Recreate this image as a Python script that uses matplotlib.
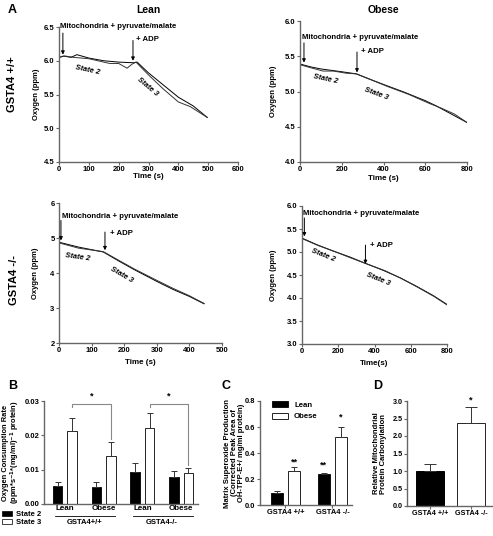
import numpy as np
import matplotlib
matplotlib.use("Agg")
import matplotlib.pyplot as plt
from matplotlib.transforms import blended_transform_factory

plt.rcParams['font.family'] = ['Liberation Sans', 'DejaVu Sans']
plt.rcParams['font.weight'] = 'bold'
plt.rcParams['axes.labelweight'] = 'bold'
plt.rcParams['mathtext.default'] = 'bf'

W, H = 493, 536
AXC = '#666666'

# ---------------- panel A traces (time s, oxygen ppm) ----------------
lean_wt_t1 = [0, 15, 40, 60, 100, 150, 200, 250, 262, 300, 350, 400, 450, 497]
lean_wt_o1 = [6.05, 6.07, 6.05, 6.09, 6.04, 6.00, 5.98, 5.97, 5.98, 5.82, 5.64, 5.46, 5.33, 5.16]
lean_wt_t2 = [0, 20, 50, 100, 170, 200, 228, 245, 258, 300, 350, 400, 440, 497]
lean_wt_o2 = [6.05, 6.07, 6.05, 6.03, 5.96, 5.96, 5.89, 5.95, 5.98, 5.79, 5.58, 5.39, 5.32, 5.16]

obese_wt_t1 = [0, 50, 100, 150, 200, 270, 320, 400, 500, 600, 650, 700, 800]
obese_wt_o1 = [5.39, 5.35, 5.32, 5.30, 5.28, 5.25, 5.19, 5.10, 4.99, 4.87, 4.80, 4.72, 4.56]
obese_wt_t2 = [0, 60, 110, 160, 220, 270, 330, 420, 520, 620, 680, 740, 800]
obese_wt_o2 = [5.38, 5.33, 5.29, 5.29, 5.26, 5.25, 5.18, 5.07, 4.96, 4.83, 4.76, 4.68, 4.56]

lean_ko_t1 = [0, 60, 136, 180, 230, 300, 350, 400, 445]
lean_ko_o1 = [4.88, 4.74, 4.60, 4.36, 4.10, 3.76, 3.53, 3.33, 3.12]
lean_ko_t2 = [0, 60, 136, 180, 230, 300, 350, 400, 445]
lean_ko_o2 = [4.86, 4.71, 4.61, 4.38, 4.12, 3.79, 3.56, 3.35, 3.13]

obese_ko_t1 = [0, 7, 81, 173, 265, 339, 449, 541, 634, 725, 800]
obese_ko_o1 = [5.28, 5.29, 5.16, 5.02, 4.89, 4.77, 4.60, 4.44, 4.25, 4.05, 3.86]
obese_ko_t2 = [0, 7, 90, 180, 270, 345, 460, 550, 640, 730, 800]
obese_ko_o2 = [5.27, 5.28, 5.14, 5.01, 4.87, 4.76, 4.59, 4.42, 4.23, 4.03, 3.85]

# ---------------- panel B: oxygen consumption rate ----------------
b_groups = ['Lean', 'Obese', 'Lean', 'Obese']
b_genotypes = ['GSTA4+/+', 'GSTA4-/-']
state2_mean = [0.0053, 0.0050, 0.0094, 0.0078]
state2_err = [0.0012, 0.0015, 0.0026, 0.0019]
state3_mean = [0.0213, 0.0139, 0.0220, 0.0091]
state3_err = [0.0038, 0.0042, 0.0044, 0.0013]

# ---------------- panel C: superoxide ----------------
c_labels = ['GSTA4 +/+', 'GSTA4 -/-']
c_lean = [0.09, 0.236]
c_lean_err = [0.018, 0.014]
c_obese = [0.262, 0.525]
c_obese_err = [0.033, 0.075]

# ---------------- panel D: carbonylation ----------------
d_labels = ['GSTA4 +/+', 'GSTA4 -/-']
d_vals = [1.01, 2.38]
d_err = [0.18, 0.44]

fig = plt.figure(figsize=(W / 100, H / 100), dpi=100)


def ax_px(l, t, r, b):
    return fig.add_axes([l / W, 1 - b / H, (r - l) / W, (b - t) / H])


def style(ax, fs=5.5):
    for s in ['top', 'right']:
        ax.spines[s].set_visible(False)
    for s in ['left', 'bottom']:
        ax.spines[s].set_color(AXC)
        ax.spines[s].set_linewidth(1.0)
    ax.tick_params(direction='out', length=2.2, width=0.8, color=AXC,
                   labelsize=fs, pad=1.0)
    for lab in ax.get_xticklabels() + ax.get_yticklabels():
        lab.set_fontweight('bold')


def arrow(ax, x, y0, y1):
    ax.annotate('', xy=(x, y1), xytext=(x, y0),
                arrowprops=dict(arrowstyle='-|>', color='black', lw=0.7,
                                mutation_scale=5, shrinkA=0, shrinkB=0))


def trace_panel(box, ts, os_, xlim, ylim, xt, yt, yfmt, xlabel, xl_off, yl_off,
                mito, adp, s2, s3):
    ax = ax_px(*box)
    ax.plot(ts[0], os_[0], color='black', lw=0.7)
    ax.plot(ts[1], os_[1], color='#333333', lw=0.7)
    ax.set_xlim(*xlim)
    ax.set_ylim(*ylim)
    ax.set_xticks(xt)
    ax.set_yticks(yt)
    ax.set_yticklabels([yfmt % v for v in yt])
    style(ax)
    ax.set_xlabel(xlabel, fontsize=5.8)
    ax.set_ylabel('Oxygen (ppm)', fontsize=5.5)
    ax.xaxis.set_label_coords(0.5, xl_off)
    ax.yaxis.set_label_coords(yl_off, 0.5)
    # annotations
    ax.text(mito[0], mito[1], 'Mitochondria + pyruvate/malate', fontsize=5.6,
            va='center', ha='left', clip_on=False)
    arrow(ax, mito[2], mito[3], mito[4])
    arrow(ax, adp[0], adp[1], adp[2])
    ax.text(adp[3], adp[4], '+ ADP', fontsize=5.6, va='center', ha='left')
    ax.text(s2[0], s2[1], 'State 2', fontsize=5.5, style='italic',
            rotation=s2[2], ha='center', va='center')
    ax.text(s3[0], s3[1], 'State 3', fontsize=5.5, style='italic',
            rotation=s3[2], ha='center', va='center')
    return ax


# A - lean +/+
trace_panel((59, 27, 238, 162), (lean_wt_t1, lean_wt_t2), (lean_wt_o1, lean_wt_o2),
            (0, 600), (4.5, 6.5), np.arange(0, 601, 100), np.arange(4.5, 6.51, 0.5),
            '%.1f', 'Time (s)', -0.08, -0.106,
            (5, 6.5, 13, 6.41, 6.09), (248, 6.3, 6.0, 258, 6.32),
            (97, 5.86, -12), (298, 5.61, -40))
# A - obese +/+
trace_panel((300, 21, 467, 162), (obese_wt_t1, obese_wt_t2), (obese_wt_o1, obese_wt_o2),
            (0, 800), (4.0, 6.0), np.arange(0, 801, 200), np.arange(4.0, 6.01, 0.5),
            '%.1f', 'Time (s)', -0.095, -0.138,
            (11, 5.76, 19, 5.69, 5.41), (273, 5.56, 5.27, 292, 5.57),
            (120, 5.18, -12), (364, 4.96, -20))
# A - lean -/-
trace_panel((59, 203, 222, 343), (lean_ko_t1, lean_ko_t2), (lean_ko_o1, lean_ko_o2),
            (0, 500), (2, 6), np.arange(0, 501, 100), np.arange(2, 7, 1),
            '%d', 'Time (s)', -0.114, -0.123,
            (9, 5.61, 6, 5.5, 4.93), (141, 5.17, 4.65, 156, 5.12),
            (58, 4.46, -8), (193, 3.94, -30))
# A - obese -/-
trace_panel((302, 206, 447, 344), (obese_ko_t1, obese_ko_t2), (obese_ko_o1, obese_ko_o2),
            (0, 800), (3.0, 6.0), np.arange(0, 801, 200), np.arange(3.0, 6.01, 0.5),
            '%.1f', 'Time(s)', -0.116, -0.172,
            (8, 5.84, 13, 5.74, 5.34), (350, 5.15, 4.74, 376, 5.14),
            (116, 4.93, -22), (420, 4.41, -22))

# headers
fig.text(8 / W, 1 - 10 / H, 'A', fontsize=9, fontweight='bold', va='center')
fig.text(148 / W, 1 - 10 / H, 'Lean', fontsize=7.5, fontweight='bold', ha='center', va='center')
fig.text(383 / W, 1 - 10 / H, 'Obese', fontsize=7.5, fontweight='bold', ha='center', va='center')
fig.text(12 / W, 1 - 84 / H, 'GSTA4 +/+', fontsize=8, fontweight='bold', rotation=90,
         ha='center', va='center')
fig.text(14 / W, 1 - 280 / H, 'GSTA4 -/-', fontsize=8, fontweight='bold', rotation=90,
         ha='center', va='center')
fig.text(8 / W, 1 - 386 / H, 'B', fontsize=9, fontweight='bold', va='center')
fig.text(222 / W, 1 - 386 / H, 'C', fontsize=9, fontweight='bold', va='center')
fig.text(373 / W, 1 - 386 / H, 'D', fontsize=9, fontweight='bold', va='center')

# ---------------- B ----------------
axb = ax_px(44, 401, 198, 504)
gx = np.arange(4)
off, bw = 0.185, 0.245
zeros = [0] * 4
ekw = dict(ecolor='#333333', elinewidth=0.7, capsize=2.2, capthick=0.7)
axb.bar(gx - off, state2_mean, bw, color='black', edgecolor='black', lw=0.6,
        yerr=[zeros, state2_err], error_kw=ekw)
axb.bar(gx + off, state3_mean, bw, color='white', edgecolor='#222222', lw=0.7,
        yerr=[zeros, state3_err], error_kw=ekw)
axb.set_xlim(-0.533, 3.43)
axb.set_ylim(0, 0.03)
axb.set_yticks([0, 0.01, 0.02, 0.03])
axb.set_yticklabels(['%.2f' % v for v in [0, 0.01, 0.02, 0.03]])
axb.set_xticks([])
style(axb)
axb.set_ylabel('Oxygen Consumption Rate\n(ppm*s$^{-1}$*(mg/ml)$^{-1}$ protein)',
               fontsize=5.4, linespacing=1.0)
axb.yaxis.set_label_coords(-0.143, 0.5)
tb = blended_transform_factory(axb.transData, axb.transAxes)
for i, g in enumerate(b_groups):
    axb.text(i, -0.045, g, transform=tb, fontsize=5.8, ha='center', va='center')
for k, gt in enumerate(b_genotypes):
    x0, x1 = 2 * k - 0.25, 2 * k + 1 + 0.3
    axb.plot([x0, x1], [-0.115, -0.115], transform=tb, color='black', lw=0.6, clip_on=False)
    axb.text(2 * k + 0.5, -0.175, gt, transform=tb, fontsize=5.5, ha='center', va='center')
# significance brackets
for k in range(2):
    xl, xr = 2 * k + off, 2 * k + 1 + off
    top = 0.0291
    right_end = state3_mean[2 * k + 1] + state3_err[2 * k + 1] + 0.0009
    axb.plot([xl, xl, xr, xr], [top - 0.0009, top, top, right_end], color='#888888',
             lw=0.8, clip_on=False)
    axb.text((xl + xr) / 2, 0.0315, '*', fontsize=6.5, ha='center', va='center')
# legend B
fig.patches.append(plt.Rectangle((2 / W, 1 - 516 / H), 10 / W, 5 / H, transform=fig.transFigure,
                                 facecolor='black', edgecolor='black', lw=0.5))
fig.patches.append(plt.Rectangle((2 / W, 1 - 524 / H), 10 / W, 5 / H, transform=fig.transFigure,
                                 facecolor='white', edgecolor='#222222', lw=0.6))
fig.text(16 / W, 1 - 514 / H, 'State 2', fontsize=5.5, va='center')
fig.text(16 / W, 1 - 522 / H, 'State 3', fontsize=5.5, va='center')

# ---------------- C ----------------
axc = ax_px(260, 401, 352, 505)
cx = np.arange(1, 3)
coff, cw = 0.185, 0.255
axc.bar(cx - coff, c_lean, cw, color='black', edgecolor='black', lw=0.6,
        yerr=[[0, 0], c_lean_err], error_kw=ekw, label='Lean')
axc.bar(cx + coff, c_obese, cw, color='white', edgecolor='#222222', lw=0.7,
        yerr=[[0, 0], c_obese_err], error_kw=ekw, label='Obese')
axc.set_xlim(0.46, 2.415)
axc.set_ylim(0, 0.8)
axc.set_xticks(cx)
axc.set_xticklabels(c_labels)
axc.set_yticks([0, 0.2, 0.4, 0.6, 0.8])
axc.set_yticklabels(['%.1f' % v for v in [0, 0.2, 0.4, 0.6, 0.8]])
style(axc, fs=5.4)
axc.set_ylabel('Matrix Superoxide Production\n(Corrected Peak Area of\nOH-TPP-E+/ mg/ml protein)',
               fontsize=5.5, linespacing=1.0)
axc.yaxis.set_label_coords(-0.163, 0.5)
axc.legend(loc='upper left', bbox_to_anchor=(0.1, 1.03), frameon=False,
           handlelength=2.0, handleheight=0.8, borderaxespad=0, labelspacing=0.5,
           prop={'weight': 'bold', 'size': 5.6})
axc.text(1 + coff, 0.33, '**', fontsize=6.5, ha='center', va='center')
axc.text(2 - coff, 0.31, '**', fontsize=6.5, ha='center', va='center')
axc.text(2 + coff, 0.68, '*', fontsize=6.5, ha='center', va='center')

# ---------------- D ----------------
axd = ax_px(407, 401, 493, 506)
dx = np.arange(2)
axd.bar(dx, d_vals, 0.68, color=['black', 'white'], edgecolor=['black', '#222222'], lw=0.7,
        yerr=[[0, 0], d_err], error_kw=dict(ecolor='#333333', elinewidth=0.7, capsize=4,
                                             capthick=0.7))
axd.set_xlim(-0.56, 1.54)
axd.set_ylim(0, 3.0)
axd.set_xticks(dx)
axd.set_xticklabels(d_labels)
axd.set_yticks(np.arange(0, 3.01, 0.5))
axd.set_yticklabels(['%.1f' % v for v in np.arange(0, 3.01, 0.5)])
style(axd, fs=5.2)
axd.set_ylabel('Relative Mitochondrial\nProtein Carbonylation', fontsize=5.5, linespacing=1.0)
axd.yaxis.set_label_coords(-0.233, 0.5)
axd.text(1, 3.03, '*', fontsize=6.5, ha='center', va='center')

fig.savefig('out.png', dpi=100)
